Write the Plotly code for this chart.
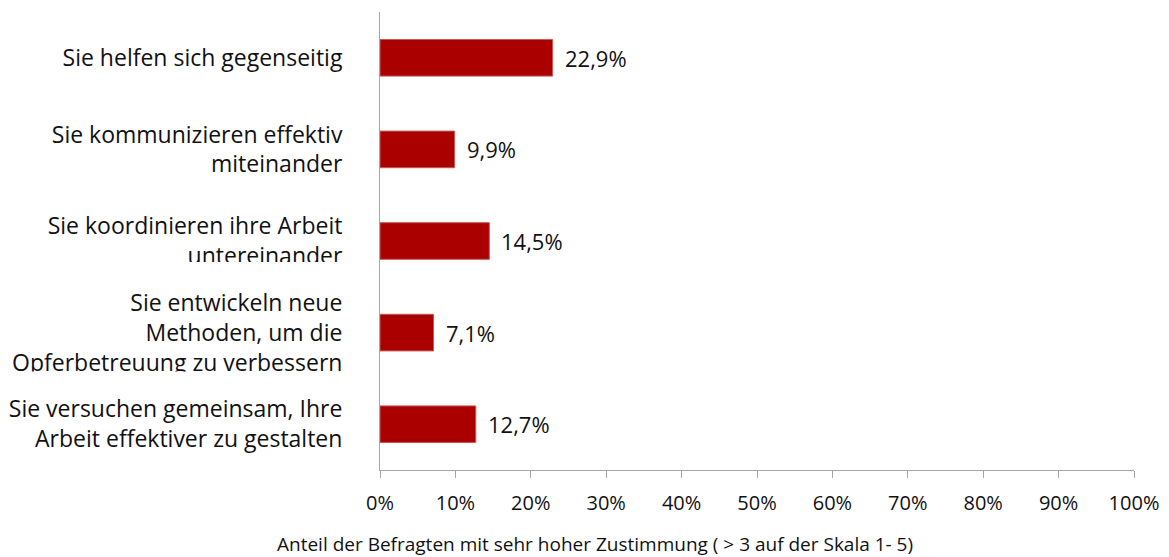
import plotly.graph_objects as go

# ---- data ----
categories = [
    "Sie helfen sich gegenseitig",
    "Sie kommunizieren effektiv<br>miteinander",
    "Sie koordinieren ihre Arbeit<br>untereinander",
    "Sie entwickeln neue<br>Methoden, um die<br>Opferbetreuung zu verbessern",
    "Sie versuchen gemeinsam, Ihre<br>Arbeit effektiver zu gestalten",
]
values = [0.229, 0.099, 0.145, 0.071, 0.127]
x_ticks = [0, 0.1, 0.2, 0.3, 0.4, 0.5, 0.6, 0.7, 0.8, 0.9, 1.0]
x_title = "Anteil der Befragten mit sehr hoher Zustimmung ( > 3 auf der Skala 1- 5)"

FONT = "Open Sans"
BAR_COLOR = "#AA0000"
AXIS_COLOR = "#A6A6A6"
TEXT_COLOR = "#111111"


def de_pct(v):
    return f"{v * 100:.1f}".replace(".", ",") + "%"


fig = go.Figure()
fig.add_trace(go.Bar(
    x=values,
    y=categories,
    orientation="h",
    width=0.4,
    marker=dict(color=BAR_COLOR, line=dict(color="#C65A5A", width=1)),
    hoverinfo="skip",
    showlegend=False,
))

# data labels
for c, v in zip(categories, values):
    fig.add_annotation(
        x=v, y=c, xref="x", yref="y", text=de_pct(v), showarrow=False,
        xanchor="left", yanchor="middle", xshift=10,
        font=dict(family=FONT, size=22, color=TEXT_COLOR),
    )

# axis title (offset to the left as in the original)
fig.add_annotation(
    x=0.285, y=-0.162, xref="paper", yref="paper", text=x_title,
    showarrow=False, xanchor="center", yanchor="middle",
    font=dict(family=FONT, size=19, color=TEXT_COLOR),
)

# white masks that imitate the clipped category label boxes
for idx, y0, y1 in [(2, 0.23, 0.40), (3, 0.425, 0.62)]:
    fig.add_shape(
        type="rect", xref="paper", yref="y", layer="above",
        x0=-0.6, x1=-0.03, y0=idx + y0, y1=idx + y1,
        fillcolor="white", line=dict(width=0),
    )

fig.update_layout(
    template="none",
    width=1169, height=557,
    margin=dict(l=380, r=35, t=12, b=87, autoexpand=False),
    paper_bgcolor="white", plot_bgcolor="white",
    font=dict(family=FONT, color=TEXT_COLOR),
    showlegend=False,
    xaxis=dict(
        range=[0, 1], tickvals=x_ticks, tickformat=".0%",
        showgrid=False, zeroline=False, automargin=False,
        showline=True, linecolor=AXIS_COLOR, linewidth=1,
        ticks="outside", ticklen=7, tickcolor=AXIS_COLOR, tickwidth=1,
        tickfont=dict(family=FONT, size=20, color=TEXT_COLOR),
        ticklabelstandoff=8,
        fixedrange=True,
    ),
    yaxis=dict(
        categoryorder="array", categoryarray=categories,
        autorange="reversed",
        showgrid=False, zeroline=False, automargin=False,
        showline=True, linecolor=AXIS_COLOR, linewidth=1,
        ticks="", ticklabelstandoff=32,
        tickfont=dict(family=FONT, size=23, color=TEXT_COLOR),
        fixedrange=True,
    ),
)

fig.write_html(
    "out.html",
    config={"displayModeBar": False},
    post_script="document.body.style.margin='0';document.body.style.overflow='hidden';",
)
